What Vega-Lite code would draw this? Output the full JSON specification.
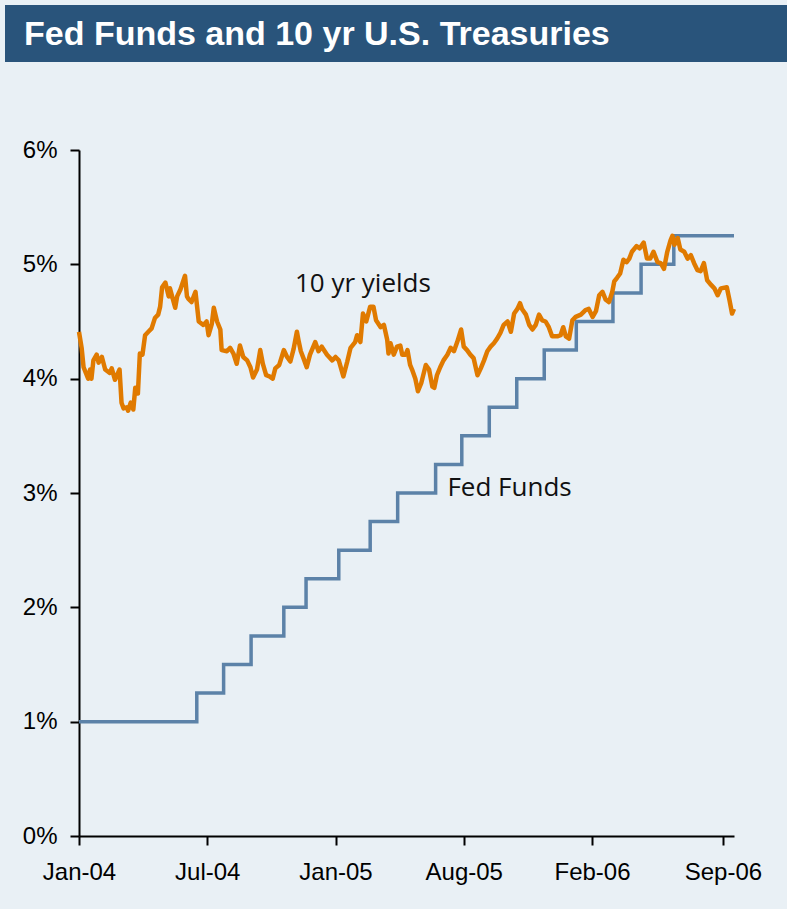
{
  "$schema": "https://vega.github.io/schema/vega-lite/v6.json",
  "background": "#e9f0f5",
  "padding": {"left": 5, "top": 5, "right": 0, "bottom": 39},
  "config": {"view": {"stroke": null}},
  "datasets": {
    "fed": [
      {"date": "2004-01-02", "rate": 1.00},
      {"date": "2004-06-30", "rate": 1.25},
      {"date": "2004-08-10", "rate": 1.50},
      {"date": "2004-09-21", "rate": 1.75},
      {"date": "2004-11-10", "rate": 2.00},
      {"date": "2004-12-14", "rate": 2.25},
      {"date": "2005-02-02", "rate": 2.50},
      {"date": "2005-03-22", "rate": 2.75},
      {"date": "2005-05-03", "rate": 3.00},
      {"date": "2005-06-30", "rate": 3.25},
      {"date": "2005-08-09", "rate": 3.50},
      {"date": "2005-09-20", "rate": 3.75},
      {"date": "2005-11-01", "rate": 4.00},
      {"date": "2005-12-13", "rate": 4.25},
      {"date": "2006-01-31", "rate": 4.50},
      {"date": "2006-03-28", "rate": 4.75},
      {"date": "2006-05-10", "rate": 5.00},
      {"date": "2006-06-29", "rate": 5.25},
      {"date": "2006-09-29", "rate": 5.25}
    ],
    "ust": [
      {"date": "2004-01-02", "yield": 4.41},
      {"date": "2004-01-06", "yield": 4.27},
      {"date": "2004-01-09", "yield": 4.10},
      {"date": "2004-01-16", "yield": 4.00},
      {"date": "2004-01-19", "yield": 4.08},
      {"date": "2004-01-21", "yield": 4.00},
      {"date": "2004-01-24", "yield": 4.16},
      {"date": "2004-01-29", "yield": 4.21},
      {"date": "2004-02-01", "yield": 4.14},
      {"date": "2004-02-06", "yield": 4.19},
      {"date": "2004-02-11", "yield": 4.08},
      {"date": "2004-02-18", "yield": 4.05},
      {"date": "2004-02-21", "yield": 4.09},
      {"date": "2004-02-26", "yield": 3.99},
      {"date": "2004-03-04", "yield": 4.08},
      {"date": "2004-03-07", "yield": 3.79},
      {"date": "2004-03-10", "yield": 3.74},
      {"date": "2004-03-15", "yield": 3.75},
      {"date": "2004-03-17", "yield": 3.72},
      {"date": "2004-03-21", "yield": 3.79},
      {"date": "2004-03-25", "yield": 3.73},
      {"date": "2004-03-28", "yield": 3.92},
      {"date": "2004-04-01", "yield": 3.87},
      {"date": "2004-04-04", "yield": 4.22},
      {"date": "2004-04-08", "yield": 4.21},
      {"date": "2004-04-12", "yield": 4.38},
      {"date": "2004-04-17", "yield": 4.41},
      {"date": "2004-04-22", "yield": 4.44},
      {"date": "2004-04-27", "yield": 4.53},
      {"date": "2004-05-02", "yield": 4.56},
      {"date": "2004-05-05", "yield": 4.63},
      {"date": "2004-05-08", "yield": 4.80},
      {"date": "2004-05-13", "yield": 4.84},
      {"date": "2004-05-18", "yield": 4.72},
      {"date": "2004-05-20", "yield": 4.79},
      {"date": "2004-05-28", "yield": 4.62},
      {"date": "2004-05-31", "yield": 4.72},
      {"date": "2004-06-05", "yield": 4.78},
      {"date": "2004-06-12", "yield": 4.90},
      {"date": "2004-06-15", "yield": 4.72},
      {"date": "2004-06-17", "yield": 4.70},
      {"date": "2004-06-22", "yield": 4.67},
      {"date": "2004-06-28", "yield": 4.76},
      {"date": "2004-07-03", "yield": 4.50},
      {"date": "2004-07-10", "yield": 4.47},
      {"date": "2004-07-15", "yield": 4.50},
      {"date": "2004-07-18", "yield": 4.38},
      {"date": "2004-07-23", "yield": 4.48},
      {"date": "2004-07-26", "yield": 4.62},
      {"date": "2004-07-31", "yield": 4.50},
      {"date": "2004-08-05", "yield": 4.43},
      {"date": "2004-08-07", "yield": 4.25},
      {"date": "2004-08-15", "yield": 4.24},
      {"date": "2004-08-20", "yield": 4.27},
      {"date": "2004-08-25", "yield": 4.22},
      {"date": "2004-08-30", "yield": 4.13},
      {"date": "2004-09-04", "yield": 4.29},
      {"date": "2004-09-09", "yield": 4.19},
      {"date": "2004-09-15", "yield": 4.16},
      {"date": "2004-09-20", "yield": 4.10},
      {"date": "2004-09-24", "yield": 4.01},
      {"date": "2004-09-30", "yield": 4.08},
      {"date": "2004-10-05", "yield": 4.25},
      {"date": "2004-10-09", "yield": 4.13},
      {"date": "2004-10-14", "yield": 4.03},
      {"date": "2004-10-19", "yield": 4.02},
      {"date": "2004-10-24", "yield": 4.00},
      {"date": "2004-10-28", "yield": 4.09},
      {"date": "2004-11-03", "yield": 4.12},
      {"date": "2004-11-10", "yield": 4.25},
      {"date": "2004-11-15", "yield": 4.19},
      {"date": "2004-11-20", "yield": 4.15},
      {"date": "2004-11-25", "yield": 4.26},
      {"date": "2004-11-30", "yield": 4.41},
      {"date": "2004-12-03", "yield": 4.32},
      {"date": "2004-12-06", "yield": 4.24},
      {"date": "2004-12-10", "yield": 4.18},
      {"date": "2004-12-15", "yield": 4.10},
      {"date": "2004-12-20", "yield": 4.21},
      {"date": "2004-12-28", "yield": 4.32},
      {"date": "2005-01-02", "yield": 4.24},
      {"date": "2005-01-07", "yield": 4.28},
      {"date": "2005-01-15", "yield": 4.21},
      {"date": "2005-01-23", "yield": 4.16},
      {"date": "2005-01-28", "yield": 4.19},
      {"date": "2005-02-02", "yield": 4.16},
      {"date": "2005-02-09", "yield": 4.02},
      {"date": "2005-02-15", "yield": 4.15},
      {"date": "2005-02-20", "yield": 4.27},
      {"date": "2005-02-27", "yield": 4.32},
      {"date": "2005-03-02", "yield": 4.38},
      {"date": "2005-03-07", "yield": 4.32},
      {"date": "2005-03-11", "yield": 4.57},
      {"date": "2005-03-16", "yield": 4.50},
      {"date": "2005-03-22", "yield": 4.63},
      {"date": "2005-03-27", "yield": 4.63},
      {"date": "2005-03-31", "yield": 4.51},
      {"date": "2005-04-07", "yield": 4.45},
      {"date": "2005-04-12", "yield": 4.47},
      {"date": "2005-04-17", "yield": 4.34},
      {"date": "2005-04-19", "yield": 4.22},
      {"date": "2005-04-22", "yield": 4.31},
      {"date": "2005-04-27", "yield": 4.21},
      {"date": "2005-05-02", "yield": 4.28},
      {"date": "2005-05-07", "yield": 4.29},
      {"date": "2005-05-10", "yield": 4.21},
      {"date": "2005-05-15", "yield": 4.21},
      {"date": "2005-05-18", "yield": 4.25},
      {"date": "2005-05-22", "yield": 4.12},
      {"date": "2005-05-25", "yield": 4.08},
      {"date": "2005-05-30", "yield": 4.00},
      {"date": "2005-06-03", "yield": 3.89},
      {"date": "2005-06-08", "yield": 3.96},
      {"date": "2005-06-15", "yield": 4.12},
      {"date": "2005-06-20", "yield": 4.08},
      {"date": "2005-06-25", "yield": 3.93},
      {"date": "2005-06-28", "yield": 3.92},
      {"date": "2005-07-02", "yield": 4.03},
      {"date": "2005-07-07", "yield": 4.10},
      {"date": "2005-07-12", "yield": 4.16},
      {"date": "2005-07-18", "yield": 4.21},
      {"date": "2005-07-23", "yield": 4.27},
      {"date": "2005-07-28", "yield": 4.24},
      {"date": "2005-08-02", "yield": 4.32},
      {"date": "2005-08-08", "yield": 4.43},
      {"date": "2005-08-12", "yield": 4.28},
      {"date": "2005-08-17", "yield": 4.25},
      {"date": "2005-08-22", "yield": 4.21},
      {"date": "2005-08-27", "yield": 4.18},
      {"date": "2005-09-02", "yield": 4.03},
      {"date": "2005-09-07", "yield": 4.09},
      {"date": "2005-09-12", "yield": 4.16},
      {"date": "2005-09-17", "yield": 4.24},
      {"date": "2005-09-22", "yield": 4.28},
      {"date": "2005-09-27", "yield": 4.31},
      {"date": "2005-10-02", "yield": 4.35},
      {"date": "2005-10-07", "yield": 4.40},
      {"date": "2005-10-12", "yield": 4.47},
      {"date": "2005-10-18", "yield": 4.50},
      {"date": "2005-10-23", "yield": 4.41},
      {"date": "2005-10-28", "yield": 4.57},
      {"date": "2005-11-02", "yield": 4.61},
      {"date": "2005-11-06", "yield": 4.66},
      {"date": "2005-11-09", "yield": 4.61},
      {"date": "2005-11-15", "yield": 4.56},
      {"date": "2005-11-20", "yield": 4.47},
      {"date": "2005-11-25", "yield": 4.43},
      {"date": "2005-11-30", "yield": 4.47},
      {"date": "2005-12-05", "yield": 4.56},
      {"date": "2005-12-10", "yield": 4.51},
      {"date": "2005-12-15", "yield": 4.50},
      {"date": "2005-12-20", "yield": 4.45},
      {"date": "2005-12-25", "yield": 4.37},
      {"date": "2006-01-02", "yield": 4.37},
      {"date": "2006-01-07", "yield": 4.38},
      {"date": "2006-01-11", "yield": 4.45},
      {"date": "2006-01-15", "yield": 4.37},
      {"date": "2006-01-20", "yield": 4.35},
      {"date": "2006-01-25", "yield": 4.51},
      {"date": "2006-01-30", "yield": 4.54},
      {"date": "2006-02-07", "yield": 4.56},
      {"date": "2006-02-14", "yield": 4.60},
      {"date": "2006-02-19", "yield": 4.61},
      {"date": "2006-02-25", "yield": 4.54},
      {"date": "2006-03-02", "yield": 4.59},
      {"date": "2006-03-07", "yield": 4.73},
      {"date": "2006-03-12", "yield": 4.76},
      {"date": "2006-03-17", "yield": 4.69},
      {"date": "2006-03-22", "yield": 4.67},
      {"date": "2006-03-27", "yield": 4.76},
      {"date": "2006-03-30", "yield": 4.85},
      {"date": "2006-04-03", "yield": 4.88},
      {"date": "2006-04-08", "yield": 4.92},
      {"date": "2006-04-13", "yield": 5.04},
      {"date": "2006-04-18", "yield": 5.02},
      {"date": "2006-04-22", "yield": 5.05},
      {"date": "2006-04-26", "yield": 5.11},
      {"date": "2006-05-03", "yield": 5.16},
      {"date": "2006-05-08", "yield": 5.14},
      {"date": "2006-05-14", "yield": 5.19},
      {"date": "2006-05-19", "yield": 5.05},
      {"date": "2006-05-24", "yield": 5.05},
      {"date": "2006-05-29", "yield": 5.11},
      {"date": "2006-06-04", "yield": 5.02},
      {"date": "2006-06-09", "yield": 5.01},
      {"date": "2006-06-14", "yield": 4.96},
      {"date": "2006-06-19", "yield": 5.11},
      {"date": "2006-06-24", "yield": 5.21},
      {"date": "2006-06-27", "yield": 5.25},
      {"date": "2006-06-30", "yield": 5.17},
      {"date": "2006-07-05", "yield": 5.23},
      {"date": "2006-07-09", "yield": 5.13},
      {"date": "2006-07-15", "yield": 5.11},
      {"date": "2006-07-20", "yield": 5.05},
      {"date": "2006-07-25", "yield": 5.08},
      {"date": "2006-07-30", "yield": 5.01},
      {"date": "2006-08-04", "yield": 4.95},
      {"date": "2006-08-09", "yield": 4.94},
      {"date": "2006-08-14", "yield": 5.01},
      {"date": "2006-08-19", "yield": 4.86},
      {"date": "2006-08-25", "yield": 4.82},
      {"date": "2006-08-30", "yield": 4.79},
      {"date": "2006-09-04", "yield": 4.73},
      {"date": "2006-09-09", "yield": 4.79},
      {"date": "2006-09-18", "yield": 4.80},
      {"date": "2006-09-22", "yield": 4.69},
      {"date": "2006-09-26", "yield": 4.57},
      {"date": "2006-09-29", "yield": 4.61}
    ]
  },
  "spacing": 76,
  "vconcat": [
    {
      "width": 782,
      "height": 57,
      "data": {"values": [{"title": "Fed Funds and 10 yr U.S. Treasuries"}]},
      "layer": [
        {
          "mark": {"type": "rect", "color": "#29547b"},
          "encoding": {}
        },
        {
          "mark": {"type": "text", "align": "left", "baseline": "middle", "dx": 19, "dy": 1, "font": "Liberation Sans", "fontSize": 34, "fontWeight": "bold", "color": "#ffffff"},
          "encoding": {
            "x": {"datum": 0, "type": "quantitative", "scale": {"domain": [0, 1]}, "axis": null},
            "text": {"field": "title"}
          }
        }
      ]
    },
    {
      "width": 782,
      "height": 686,
      "layer": [
        {
          "data": {"name": "fed"},
          "mark": {"type": "line", "interpolate": "step-after", "color": "#5c82a8", "strokeWidth": 3.5},
          "encoding": {
            "x": {
              "field": "date",
              "type": "temporal",
              "scale": {
                "type": "utc",
                "range": [74, 729],
                "domain": [
                  {"year": 2004, "month": 1, "date": 2, "utc": true},
                  {"year": 2006, "month": 9, "date": 29, "utc": true}
                ]
              },
              "axis": {
                "title": null,
                "grid": false,
                "values": [
                  {"year": 2004, "month": 1, "date": 2, "utc": true},
                  {"year": 2004, "month": 7, "date": 16, "utc": true},
                  {"year": 2005, "month": 1, "date": 28, "utc": true},
                  {"year": 2005, "month": 8, "date": 12, "utc": true},
                  {"year": 2006, "month": 2, "date": 24, "utc": true},
                  {"year": 2006, "month": 9, "date": 12, "utc": true}
                ],
                "labelExpr": "utcFormat(datum.value, '%b-%y')",
                "labelFlush": false,
                "labelOverlap": false,
                "labelFont": "Liberation Sans",
                "labelFontSize": 24,
                "labelColor": "#000000",
                "labelPadding": 15,
                "tickSize": 9,
                "tickWidth": 2,
                "tickColor": "#000000",
                "domainColor": "#000000",
                "domainWidth": 2
              }
            },
            "y": {
              "field": "rate",
              "type": "quantitative",
              "scale": {"domain": [0, 6]},
              "axis": {
                "title": null,
                "grid": false,
                "offset": -74,
                "values": [0, 1, 2, 3, 4, 5, 6],
                "labelExpr": "datum.value + '%'",
                "labelFont": "Liberation Sans",
                "labelFontSize": 24,
                "labelColor": "#000000",
                "labelPadding": 13,
                "tickSize": 9,
                "tickWidth": 2,
                "tickColor": "#000000",
                "domainColor": "#000000",
                "domainWidth": 2
              }
            }
          }
        },
        {
          "data": {"name": "ust"},
          "mark": {"type": "line", "color": "#e07a00", "strokeWidth": 4.5, "strokeJoin": "round"},
          "encoding": {
            "x": {"field": "date", "type": "temporal"},
            "y": {"field": "yield", "type": "quantitative"}
          }
        },
        {
          "data": {"values": [{"label": "10 yr yields"}]},
          "mark": {"type": "text", "align": "left", "baseline": "alphabetic", "font": "Open Sans", "fontSize": 26, "color": "#111111"},
          "encoding": {
            "x": {"datum": {"year": 2004, "month": 11, "date": 27, "utc": true}, "type": "temporal"},
            "y": {"datum": 4.76, "type": "quantitative"},
            "text": {"field": "label"}
          }
        },
        {
          "data": {"values": [{"label": "Fed Funds"}]},
          "mark": {"type": "text", "align": "left", "baseline": "alphabetic", "font": "Open Sans", "fontSize": 26, "color": "#111111"},
          "encoding": {
            "x": {"datum": {"year": 2005, "month": 7, "date": 18, "utc": true}, "type": "temporal"},
            "y": {"datum": 2.97, "type": "quantitative"},
            "text": {"field": "label"}
          }
        }
      ]
    }
  ]
}
